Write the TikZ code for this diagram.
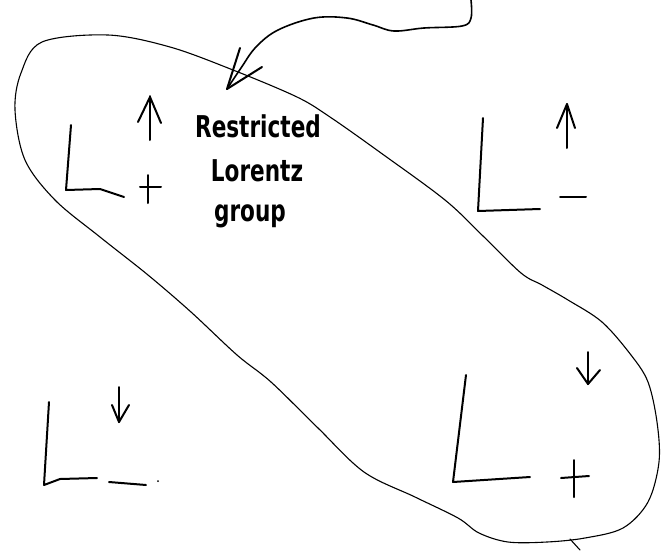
\documentclass[tikz,border=0pt]{standalone}
\usepackage{fontspec}
\newfontfamily\handfont[FakeStretch=0.72]{DejaVu Sans Bold}
\begin{document}
\begin{tikzpicture}[x=1pt,y=-1pt,
  loopline/.style={line width=1.1pt,line join=round,line cap=round},
  penline/.style={line width=2pt,line join=round,line cap=round},
  lbl/.style={font=\handfont\fontsize{30}{36}\selectfont,inner sep=0pt,anchor=base}]
\useasboundingbox (0,0) rectangle (662,550);
% loop around the restricted group
\draw[loopline] plot[smooth cycle,tension=0.55] coordinates {
 (108,35) (170,47) (233,70) (297,97) (330,117) (381,153) (445,200) (483,236)
 (521,273) (542,285) (568,300) (602,322) (631,355) (648,382) (657,422)
 (659,462) (648,502) (623,528) (585,538) (547,542) (508,542) (479,533)
 (458,518) (415,497) (364,472) (318,428) (271,382) (237,355) (191,312)
 (148,275) (100,237) (55,200) (25,160) (15,110) (21,73) (42,42)};
\coordinate (tailA) at (570,539);
\coordinate (tailB) at (580,550);
\draw[loopline] (tailA) -- (tailB);
% pointer arrow
\coordinate (top) at (471,0);
\coordinate (tip) at (227,89);
\draw[penline,line width=1.6pt] plot[smooth,tension=0.6] coordinates {
 (471,0) (471,18) (462,26) (424,28) (394,31) (373,25) (347,18) (314,18)
 (278,30) (256,47) (241,68) (227,89)};
\coordinate (armA) at (240,48);
\coordinate (armB) at (262,67);
\draw[penline] (tip) -- (armA);
\draw[penline] (tip) -- (armB);
% text
\node[lbl] (txt1) at (258,137) {Restricted};
\node[lbl] (txt2) at (257,181) {Lorentz};
\node[lbl] (txt3) at (250,221) {group};
% L up plus
\coordinate (a1) at (71,125);
\draw[penline] (a1) -- (66,190) -- (100,189) -- (124,197);
\draw[penline] (150,96) -- (150,140);
\draw[penline] (138,122) -- (150,97) -- (161,123);
\draw[penline] (148,175) -- (148,203);
\draw[penline] (140,187) -- (161,187);
% L up minus
\draw[penline] (483,118) -- (478,211) -- (540,209);
\draw[penline] (567,104) -- (567,148);
\draw[penline] (557,128) -- (567,104) -- (575,128);
\draw[penline] (560,197) -- (586,197);
% L down minus
\draw[penline] (49,402) -- (44,485) -- (60,479) -- (97,478);
\draw[penline] (109,482) -- (146,485);
\fill (158,481) circle (1pt);
\draw[penline] (119,387) -- (119,422);
\draw[penline] (112,405) -- (119,422) -- (129,405);
% L down plus
\draw[penline] (466,375) -- (453,482) -- (530,477);
\draw[penline] (574,460) -- (574,497);
\draw[penline] (561,478) -- (589,476);
\draw[penline] (588,352) -- (588,384);
\draw[penline] (577,368) -- (588,384) -- (600,370);
\end{tikzpicture}
\end{document}
